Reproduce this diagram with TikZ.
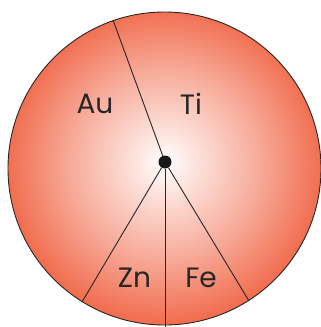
\documentclass[tikz,border=0pt]{standalone}
\usepackage{fontspec}
\setmainfont{Poppins}
\usetikzlibrary{positioning}
\definecolor{discred}{RGB}{241,110,80}
\definecolor{inkgray}{RGB}{38,38,38}
\pgfdeclareradialshading{discshade}{\pgfpoint{0bp}{1bp}}{color(0bp)=(white); color(5bp)=(discred!20!white); color(15bp)=(discred!58!white); color(25bp)=(discred); color(50bp)=(discred)}

\begin{document}
\begin{tikzpicture}[x=1pt,y=-1pt,
  rim/.style={draw=inkgray, line width=0.9pt},
  spoke/.style={draw=inkgray, line width=0.9pt},
  hub/.style={circle, fill=black!90, inner sep=0pt, minimum size=13pt},
  metal/.style={text=inkgray, font=\fontsize{28}{28}\selectfont}]
\useasboundingbox (0,0) rectangle (321,327);
\clip (0,0) rectangle (321,327);
% disc
\shade[shading=discshade] (164.5,168.5) circle [radius=156.5pt];
\draw[rim] (164.5,168.5) circle [radius=156.5pt];
% centre and rim points
\node[hub] (c) at (165,162) {};
\coordinate (ptop) at (113,20);
\coordinate (pzn) at (82,302);
\coordinate (pbot) at (165,330);
\coordinate (pfe) at (249,301);
\draw[spoke] (c) -- (ptop);
\draw[spoke] (c) -- (pzn);
\draw[spoke] (c) -- (pbot);
\draw[spoke] (c) -- (pfe);
% labels
\node[metal] (au) at (95,104) {Au};
\node[metal] (ti) at (191,104) {Ti};
\node[metal] (zn) at (134.5,277.5) {Zn};
\node[metal] (fe) at (201,277.5) {Fe};
\end{tikzpicture}
\end{document}
